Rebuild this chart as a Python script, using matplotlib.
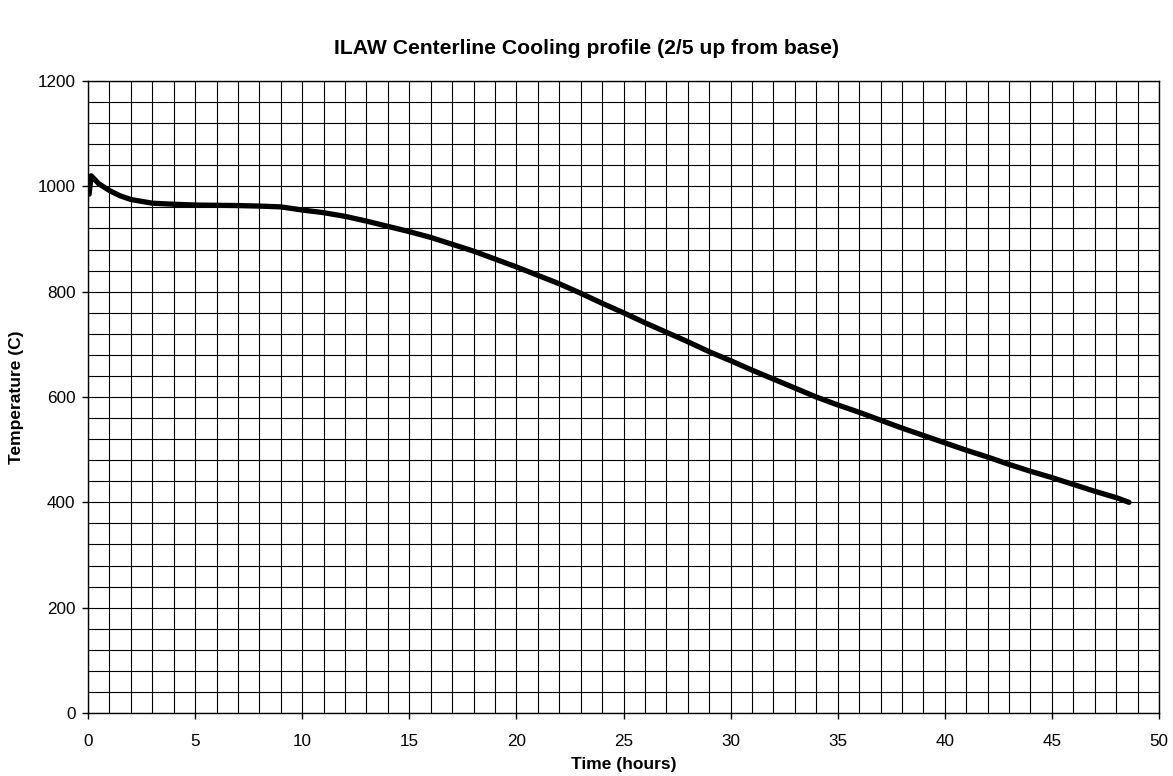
import matplotlib
matplotlib.use("Agg")
import matplotlib.pyplot as plt
from matplotlib.ticker import MultipleLocator

plt.rcParams['font.family'] = ['Liberation Sans', 'DejaVu Sans']

time_hours = [0.05, 0.15, 0.5, 1.0, 1.5, 2.0, 3.0, 4.0, 5.0, 6.0, 7.0, 8.0, 9.0, 9.5,
              10, 11, 12, 13, 14, 15, 16, 17, 18, 19, 20, 21, 22, 23, 24, 25, 26, 27,
              28, 29, 30, 31, 32, 33, 34, 35, 36, 37, 38, 39, 40, 41, 42, 43, 44, 45,
              46, 47, 48, 48.6]
temperature_c = [985, 1020, 1005, 992, 982, 975, 968, 966, 964.5, 964, 963.5, 962.5, 961, 958,
                 955, 950, 943, 934, 924, 914, 903, 890, 877, 862, 847, 831, 815, 797, 778, 760,
                 741, 723, 705, 686, 669, 651, 634, 617, 600, 585, 571, 556, 541, 527, 513, 499,
                 486, 472, 459, 447, 434, 421, 409, 400]

title = "ILAW Centerline Cooling profile (2/5 up from base)"
x_label = "Time (hours)"
y_label = "Temperature (C)"

W, H = 1173, 776
fig = plt.figure(figsize=(W / 100, H / 100), dpi=100)
ax = fig.add_axes([88 / W, (H - 713) / H, (1159 - 88) / W, (713 - 81) / H])

ax.plot(time_hours, temperature_c, color='black', lw=3.8, solid_capstyle='round',
        solid_joinstyle='round', zorder=3)

ax.set_xlim(0, 50)
ax.set_ylim(0, 1200)
ax.xaxis.set_major_locator(MultipleLocator(5))
ax.xaxis.set_minor_locator(MultipleLocator(1))
ax.yaxis.set_major_locator(MultipleLocator(200))
ax.yaxis.set_minor_locator(MultipleLocator(40))
ax.grid(which='both', color='black', lw=0.8)
ax.set_axisbelow(True)
ax.tick_params(which='major', direction='out', length=4, width=1, labelsize=12.3, color='black')
ax.tick_params(axis='x', which='major', pad=11)
ax.tick_params(axis='y', which='major', pad=5)
ax.tick_params(which='minor', length=0)
for s in ax.spines.values():
    s.set_color('black')
    s.set_linewidth(1)

ax.set_xlabel(x_label, fontsize=12.5, fontweight='bold')
ax.set_ylabel(y_label, fontsize=12.5, fontweight='bold')
ax.xaxis.set_label_coords(0.5, ((H - 765) / H - (H - 713) / H) / ((713 - 81) / H))
ax.xaxis.label.set_va('center')
ax.yaxis.set_label_coords((17 - 88) / (1159 - 88), 0.5)
ax.yaxis.label.set_va('center')
fig.text(0.5, 1 - 48 / H, title, fontsize=15.2, fontweight='bold', ha='center', va='center')

fig.savefig("out.png", dpi=100)
